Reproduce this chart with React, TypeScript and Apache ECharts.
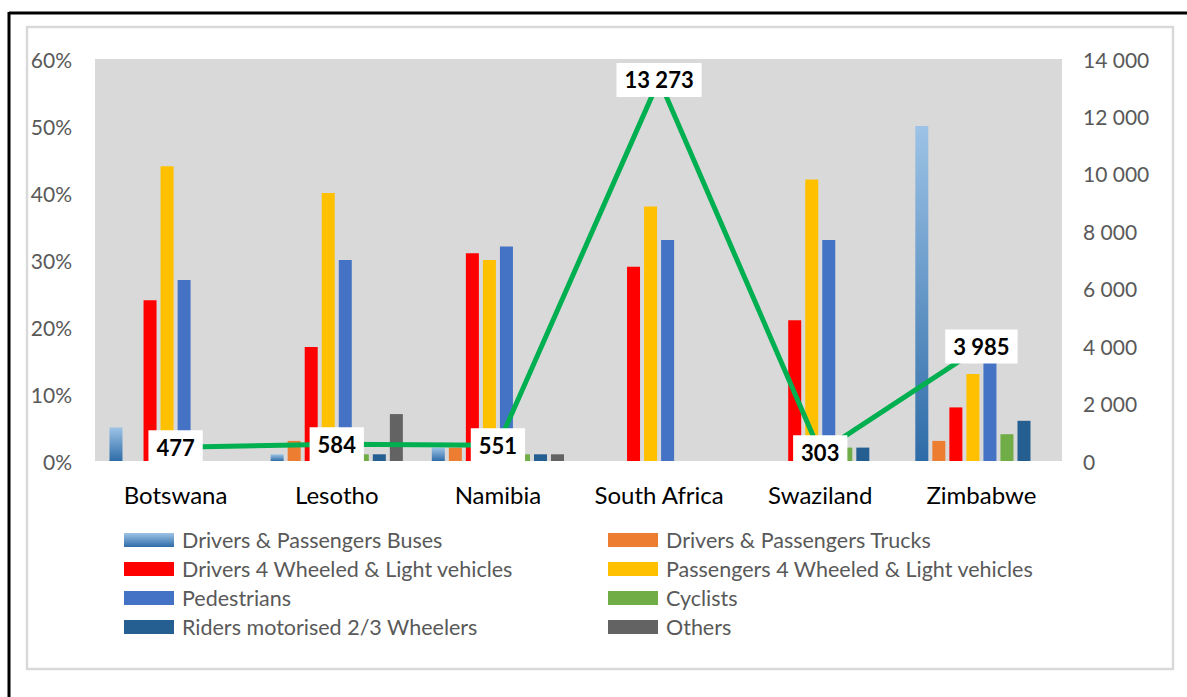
import React, { useEffect, useRef } from "react";
import * as echarts from "echarts";

const countries = ["Botswana", "Lesotho", "Namibia", "South Africa", "Swaziland", "Zimbabwe"];
const buses = [5, 1, 2, 0, 0, 50];
const trucks = [0, 3, 2, 0, 0, 3];
const drivers4w = [24, 17, 31, 29, 21, 8];
const passengers4w = [44, 40, 30, 38, 42, 13];
const pedestrians = [27, 30, 32, 33, 33, 15];
const cyclists = [0, 1, 1, 0, 2, 4];
const riders = [0, 1, 1, 0, 2, 6];
const others = [0, 7, 1, 0, 0, 0];
const deaths = [477, 584, 551, 13273, 303, 3985];

const FONT = "Lato, 'Noto Sans', sans-serif";

const fmtSpace = (v: number) => {
  const s = Math.round(v).toString();
  return s.replace(/\B(?=(\d{3})+(?!\d))/g, " ");
};

export default function App() {
  const ref = useRef<HTMLDivElement>(null);
  useEffect(() => {
    document.body.style.margin = "0";
    const chart = echarts.init(ref.current!, null, { renderer: "svg" });
    const barBase = { type: "bar", barWidth: 13, barGap: "31%", yAxisIndex: 0 };
    const names = [
      "Drivers & Passengers Buses",
      "Drivers & Passengers Trucks",
      "Drivers 4 Wheeled & Light vehicles",
      "Passengers 4 Wheeled & Light vehicles",
      "Pedestrians",
      "Cyclists",
      "Riders motorised 2/3 Wheelers",
      "Others",
    ];
    const legendText = { color: "#595959", fontSize: 21.5, fontFamily: FONT, lineHeight: 20, padding: [0, 0, 0, 3] };
    const legendBase = {
      orient: "vertical",
      top: 524,
      itemWidth: 50,
      itemHeight: 14,
      itemGap: 7,
      icon: "rect",
      textStyle: legendText,
    };
    chart.setOption({
      animation: false,
      backgroundColor: "#ffffff",
      graphic: [
        { type: "line", shape: { x1: 9, y1: 13, x2: 1300, y2: 13 }, style: { stroke: "#000", lineWidth: 3 }, z: 100 },
        { type: "line", shape: { x1: 9, y1: 12, x2: 9, y2: 800 }, style: { stroke: "#000", lineWidth: 3 }, z: 100 },
        { type: "rect", shape: { x: 27, y: 27, width: 1146, height: 642 }, style: { fill: "none", stroke: "#d9d9d9", lineWidth: 2.5 }, z: 100 },
      ],
      grid: {
        left: 95,
        right: 125,
        top: 59,
        bottom: 236,
        show: true,
        backgroundColor: "#d9d9d9",
        borderWidth: 0,
      },
      legend: [
        { ...legendBase, left: 119, data: [names[0], names[2], names[4], names[6]] },
        { ...legendBase, left: 603, data: [names[1], names[3], names[5], names[7]] },
      ],
      xAxis: {
        type: "category",
        data: countries,
        axisTick: { show: false },
        axisLine: { show: false },
        axisLabel: { color: "#000", fontSize: 24, fontFamily: FONT, margin: 21, interval: 0 },
      },
      yAxis: [
        {
          type: "value",
          min: 0,
          max: 60,
          interval: 10,
          splitLine: { show: false },
          axisLabel: { formatter: "{value}%", color: "#595959", fontSize: 21, fontFamily: FONT, margin: 23 },
        },
        {
          type: "value",
          min: 0,
          max: 14000,
          interval: 2000,
          position: "right",
          splitLine: { show: false },
          axisLabel: { formatter: (v: number) => fmtSpace(v), color: "#595959", fontSize: 21, fontFamily: FONT, margin: 21 },
        },
      ],
      series: [
        {
          ...barBase,
          name: names[0],
          data: buses,
          itemStyle: {
            color: new echarts.graphic.LinearGradient(0, 0, 0, 1, [
              { offset: 0, color: "#9dc3e6" },
              { offset: 1, color: "#2e6ca8" },
            ]),
          },
        },
        { ...barBase, name: names[1], data: trucks, itemStyle: { color: "#ed7d31" } },
        { ...barBase, name: names[2], data: drivers4w, itemStyle: { color: "#ff0000" } },
        { ...barBase, name: names[3], data: passengers4w, itemStyle: { color: "#ffc000" } },
        { ...barBase, name: names[4], data: pedestrians, itemStyle: { color: "#4472c4" } },
        { ...barBase, name: names[5], data: cyclists, itemStyle: { color: "#70ad47" } },
        { ...barBase, name: names[6], data: riders, itemStyle: { color: "#255e91" } },
        { ...barBase, name: names[7], data: others, itemStyle: { color: "#636363" } },
        {
          type: "line",
          name: "Deaths",
          yAxisIndex: 1,
          data: deaths,
          symbol: "circle",
          symbolSize: 1,
          lineStyle: { color: "#00b050", width: 5 },
          itemStyle: { color: "#00b050" },
          z: 5,
          label: {
            show: true,
            position: "inside",
            formatter: (p: any) => fmtSpace(p.value),
            color: "#000",
            fontWeight: "bold",
            fontSize: 22,
            fontFamily: FONT,
            backgroundColor: "#ffffff",
            padding: [6, 8],
          },
        },
      ],
    });
    return () => chart.dispose();
  }, []);
  return <div ref={ref} style={{ position: "fixed", left: 0, top: 0, width: 1187, height: 697 }} />;
}
